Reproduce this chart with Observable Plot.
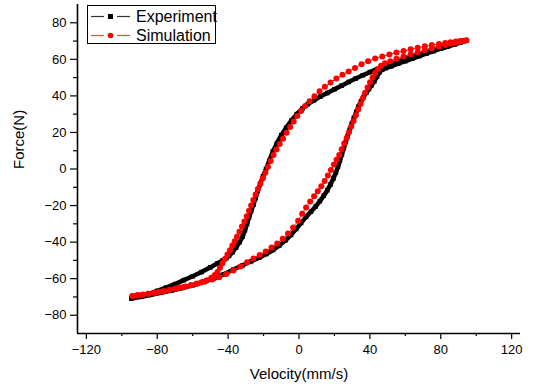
<!DOCTYPE html>
<html>
<head>
<meta charset="utf-8">
<script src="https://cdn.jsdelivr.net/npm/d3@7"></script>
<script src="https://cdn.jsdelivr.net/npm/@observablehq/plot@0.6"></script>
<style>
  html, body { margin: 0; padding: 0; background: #fff; }
  #wrap { position: relative; width: 535px; height: 386px; font-family: "Liberation Sans", Arial, sans-serif; }
  #legend { position: absolute; left: 87px; top: 5px; width: 129px; height: 39px; border: 1px solid #000; background: #fff; box-sizing: border-box; }
  .row { position: absolute; left: 0; height: 19px; display: flex; align-items: center; font-size: 16px; color: #000; }
  .row svg { display: block; margin-left: 2px; margin-right: 6px; }
</style>
</head>
<body>
<div id="wrap">
  <div id="chart"></div>
  <div id="legend"></div>
</div>
<script>
// ---- Data (velocity mm/s, force N) ----
const experimentUp = [
  [-94.5,-70.8],[-90,-69.8],[-85,-68.4],[-80,-66.7],[-75,-64.9],[-70,-63],[-65,-60.8],[-60,-58.7],
  [-55,-56.4],[-50,-53.8],[-46,-51.6],[-43,-50],[-41,-48.8],[-39.5,-47.5],[-37.5,-45.5],[-35.5,-43],
  [-33.5,-40],[-31.8,-37],[-30.5,-33.5],[-29.3,-30],[-28.2,-26.5],[-27,-23],[-25.7,-19.5],[-24.5,-16],
  [-23.3,-12],[-21.8,-8],[-20.3,-4],[-18.6,0],[-16.8,4.5],[-14.8,9.5],[-12.5,14],[-10,18.5],
  [-7.3,22.5],[-4.3,26.5],[-1.3,30],[2,33.2],[5,35.5],[8.5,37.6],[12,39.6],[16,41.6],[20,43.6],
  [24,45.6],[28,47.6],[32,49.5],[36,51.3],[40,53],[44,54.6],[48,56.1],[52,57.5],[56,58.8],[60,60.2],
  [64,61.6],[68,63],[72,64.3],[76,65.5],[80,66.7],[84,67.8],[88,68.8],[91,69.5],[94.5,70.3]
];
const experimentDown = [
  [94.5,70.3],[91,69.1],[88,68.2],[84,67],[80,65.8],[76,64.5],[72,63.2],[68,61.8],[64,60.4],[60,59],
  [56,57.6],[52,56.2],[49,55.2],[47,54.4],[45.5,53],[44,50.5],[42.5,48],[41,45.8],[39.5,43.8],[38,41.8],
  [36.5,39.5],[35,37],[33.6,34.2],[32.3,31.2],[31,28],[29.8,24.8],[28.6,21.5],[27.5,18.2],[26.4,14.8],
  [25.3,11.4],[24.2,8],[23.1,4.6],[22,1.2],[20.8,-2],[19.4,-5.2],[17.8,-8.4],[16,-11.6],[14,-14.6],
  [11.8,-17.6],[9.4,-20.5],[6.8,-23.3],[4,-26.2],[1.2,-29.5],[-1.6,-32.8],[-4.5,-36],[-7.6,-39],
  [-11,-41.8],[-14.6,-44.3],[-18.4,-46.5],[-22.5,-48.5],[-27,-50.5],[-31.8,-52.7],[-37,-55],
  [-42.5,-57.6],[-48,-59.8],[-54,-61.8],[-60,-63.6],[-66,-65.1],[-72,-66.5],[-78,-67.7],[-84,-68.9],
  [-89,-69.9],[-94.5,-70.8]
];
const simulationUp = [
  [-94,-69.5],[-91,-69],[-88,-68.6],[-85,-68.2],[-82,-67.7],[-79,-67.2],[-76,-66.7],[-73,-66.1],
  [-70,-65.5],[-67,-64.9],[-64,-64.3],[-61,-63.6],[-58,-62.8],[-55,-61.9],[-52,-60.8],[-49.5,-59.5],
  [-47.5,-58],[-46,-56.3],[-44.6,-54],[-43.2,-51.6],[-41.8,-49.2],[-40.4,-46.8],[-39,-44.4],
  [-37.6,-41.9],[-36.3,-39.5],[-35,-37],[-33.6,-34.3],[-32.2,-31.5],[-30.8,-28.7],[-29.5,-25.8],
  [-28.2,-22.9],[-27,-20],[-25.8,-17],[-24.5,-14],[-23.2,-11],[-21.8,-8],[-20.4,-5],[-19,-2],
  [-17.5,1.2],[-16,4.4],[-14.4,7.6],[-12.7,10.7],[-10.9,13.7],[-9,16.6],[-7,19.8],[-5,23],[-3,26],
  [-1,29],[1.2,31.8],[3.5,34.4],[6,37],[8.7,39.8],[11.6,42.5],[14.6,45],[17.8,47.3],[21.1,49.5],
  [24.5,51.5],[28,53.4],[31.6,55.3],[35.3,57.3],[39,59],[43,60.4],[47,61.6],[51,62.7],[55,63.7],
  [59,64.6],[63,65.5],[67,66.3],[71,67.1],[75,67.8],[79,68.4],[82.5,68.9],[85.5,69.3],[88.5,69.7],
  [91,70],[93,70.2],[94.5,70.4]
];
const simulationDown = [
  [94.5,70.4],[93,70],[91,69.6],[88.5,69.1],[85.5,68.5],[82.5,67.8],[79,67],[75,66],[71,65],
  [67,63.9],[63,62.8],[59,61.6],[55,60.3],[51.5,59],[48.5,57.8],[46.3,56.5],[44.6,54.7],[43,52.5],
  [41.5,50],[40.1,47.4],[38.7,44.6],[37.3,41.7],[36,38.7],[34.7,35.6],[33.4,32.5],[32.1,29.4],
  [30.8,26.3],[29.5,23.2],[28.2,20.1],[26.9,17],[25.5,13.9],[24.1,10.8],[22.7,7.7],[21.2,5],
  [19.7,2.5],[18,-0.5],[16.3,-3.5],[14.5,-6.5],[12.6,-9.4],[10.6,-12.2],[8.5,-14.9],[6.3,-17.8],
  [4,-21],[1.8,-24.5],[-0.5,-28.3],[-3.3,-32],[-6.2,-35.3],[-9.2,-38.1],[-12.3,-40.7],[-15.5,-43],
  [-18.8,-45.1],[-22.2,-47],[-25.7,-48.9],[-29.3,-51],[-33,-53.3],[-37,-55.5],[-41,-57.5],
  [-45,-59.2],[-49,-60.5],[-53,-61.6],[-57,-62.6],[-61,-63.6],[-65,-64.5],[-69,-65.4],[-73,-66.2],
  [-77,-67],[-81,-67.7],[-85,-68.3],[-89,-68.9],[-92,-69.3],[-94,-69.5]
];
const xMajorTicks = [-120, -80, -40, 0, 40, 80, 120];
const xMinorTicks = [-100, -60, -20, 20, 60, 100];
const yMajorTicks = [-80, -60, -40, -20, 0, 20, 40, 60, 80];
const yMinorTicks = [-70, -50, -30, -10, 10, 30, 50, 70];
const seriesNames = ["Experiment", "Simulation"];
const xLabel = "Velocity(mm/s)";
const yLabel = "Force(N)";

const experiment = experimentUp.concat(experimentDown.slice(1));
const simulation = simulationUp.concat(simulationDown.slice(1));
const X = d => d[0], Y = d => d[1];

const chart = Plot.plot({
  width: 535,
  height: 386,
  marginLeft: 77,
  marginRight: 15,
  marginTop: 4,
  marginBottom: 53,
  x: {domain: [-125, 125]},
  y: {domain: [-90, 90]},
  style: {fontFamily: "'Liberation Sans', Arial, sans-serif", fontSize: "13px", color: "#000", background: "#fff"},
  marks: [
    Plot.axisX(xMajorTicks, {tickSize: 6, tickPadding: 5, label: null, fontSize: 13, strokeWidth: 1.2}),
    Plot.axisX(xMinorTicks, {tickSize: 3, tickFormat: () => "", label: null, strokeWidth: 1.2}),
    Plot.axisY(yMajorTicks, {tickSize: 7, tickPadding: 4, label: null, fontSize: 13, strokeWidth: 1.2}),
    Plot.axisY(yMinorTicks, {tickSize: 4, tickFormat: () => "", label: null, strokeWidth: 1.2}),
    Plot.ruleX([-125], {stroke: "#000", strokeWidth: 1.6}),
    Plot.ruleY([-90], {stroke: "#000", strokeWidth: 1.6}),
    Plot.text([xLabel], {frameAnchor: "bottom", dy: 45, fontSize: 15, fill: "#000"}),
    Plot.text([yLabel], {frameAnchor: "left", dx: -58, rotate: -90, fontSize: 15, fill: "#000"}),
    Plot.line(experiment, {x: X, y: Y, stroke: "#000", strokeWidth: 4.5, strokeLinejoin: "round"}),
    Plot.dot(experiment, {x: X, y: Y, symbol: "square", r: 2.6, fill: "#000", stroke: "none"}),
    Plot.line(simulation, {x: X, y: Y, stroke: "#ff2020", strokeWidth: 1}),
    Plot.dot(simulation, {x: X, y: Y, r: 3, fill: "#ff0000", stroke: "none"})
  ]
});
document.getElementById("chart").appendChild(chart);

// Legend
const legend = document.getElementById("legend");
const swatches = [
  {name: seriesNames[0], line: "#333", marker: `<rect x="18" y="7" width="5" height="5" fill="#000"/>`},
  {name: seriesNames[1], line: "#ff4040", marker: `<circle cx="20.5" cy="9.5" r="2.8" fill="#ff0000"/>`}
];
swatches.forEach((s, i) => {
  const row = document.createElement("div");
  row.className = "row";
  row.style.top = (i === 0 ? 1 : 20) + "px";
  row.innerHTML = `<svg width="40" height="19">
      <line x1="1" y1="9.5" x2="14" y2="9.5" stroke="${s.line}" stroke-width="1.2"/>
      <line x1="27" y1="9.5" x2="40" y2="9.5" stroke="${s.line}" stroke-width="1.2"/>
      ${s.marker}
    </svg><span>${s.name}</span>`;
  legend.appendChild(row);
});
</script>
</body>
</html>
